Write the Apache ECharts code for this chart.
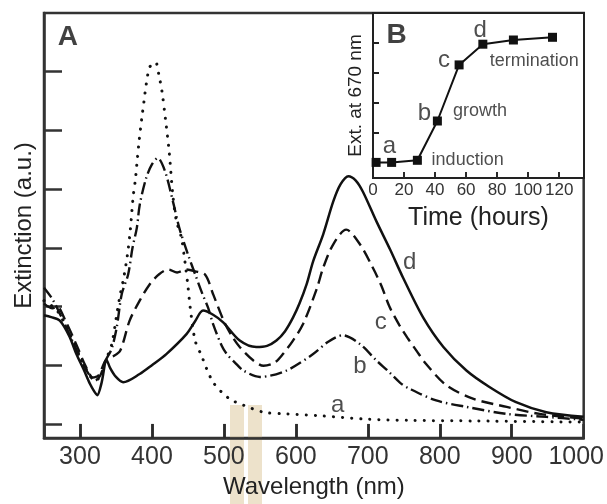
<!DOCTYPE html>
<html>
<head>
<meta charset="utf-8">
<script src="https://cdn.jsdelivr.net/npm/echarts/dist/echarts.min.js"></script>
<style>
html,body{margin:0;padding:0;background:#fff;}
#main{width:607px;height:504px;}
</style>
</head>
<body>
<div id="main"></div>
<script>
// 曲线 a (点线)
var aWl  = [250,260,270,285,300,312,320,328,336,344,352,356,360,364,367,370,374,377,379,382,386,389,392,397,405,410,414,419,424,429,434,441,446,450,453,460,469,476,485,497,510,527,555,587,633,700,760,850,1000];
var aExt = [2.10,2.02,1.90,1.55,1.15,0.86,0.74,0.80,1.09,1.35,1.93,2.21,2.44,2.72,2.98,3.31,3.88,4.16,4.42,4.80,5.22,5.50,5.78,6.08,6.16,5.92,5.66,5.17,4.63,3.90,3.46,3.17,2.75,2.35,2.00,1.42,1.16,0.94,0.71,0.54,0.41,0.32,0.20,0.17,0.14,0.08,0.06,0.05,0.03];
// 曲线 b (点划线)
var bWl  = [250,262,275,290,305,315,321,328,336,344,351,358,367,373,379,383,392,400,408,418,429,438,450,460,470,478,485,497,504,515,527,550,587,624,645,665,689,712,730,745,758,795,837,893,948,1000];
var bExt = [2.32,2.12,1.80,1.40,1.00,0.80,0.74,0.82,1.09,1.28,1.64,2.21,2.55,3.00,3.34,3.73,4.19,4.42,4.53,4.31,3.80,3.34,2.89,2.55,2.22,1.98,1.70,1.33,1.19,1.05,0.91,0.80,0.91,1.19,1.40,1.51,1.36,1.08,0.88,0.70,0.60,0.40,0.29,0.17,0.12,0.07];
// 曲线 c (虚线)
var cWl  = [250,262,268,280,295,308,318,326,336,346,356,369,383,397,410,423,435,448,460,474,485,500,511,522,541,555,570,582,596,610,629,638,652,670,689,707,719,730,744,756,768,781,809,846,893,939,1000];
var cExt = [2.05,1.97,2.00,1.75,1.35,0.98,0.79,0.83,1.09,1.15,1.25,1.76,2.10,2.38,2.55,2.63,2.58,2.63,2.60,2.54,2.21,1.75,1.50,1.31,1.08,0.99,1.04,1.19,1.42,1.70,2.30,2.66,3.06,3.31,3.06,2.66,2.35,2.00,1.68,1.45,1.24,1.02,0.66,0.43,0.29,0.17,0.09];
// 曲线 d (实线)
var dWl  = [250,260,272,285,295,305,314,320,324,330,337,342,350,360,383,400,420,448,460,471,485,499,522,545,560,573,585,596,605,615,624,638,652,662,673,683,693,712,731,749,777,805,837,869,906,948,1000];
var dExt = [1.85,1.82,1.76,1.50,1.19,0.93,0.68,0.55,0.49,0.70,1.09,0.95,0.80,0.71,0.85,1.00,1.19,1.53,1.75,1.93,1.86,1.73,1.42,1.31,1.33,1.42,1.58,1.81,2.05,2.38,2.77,3.23,3.79,4.08,4.22,4.15,3.96,3.45,2.97,2.49,1.81,1.31,0.91,0.63,0.37,0.20,0.12];

// 主图刻度
var wlTicks = [300,400,500,600,700,800,900];
var extTicks = [0,1,2,3,4,5,6];

// 曲线标注
var mainTagText = ['A','a','b','c','d'];
var mainTagX = [283,658,689,718,758];
var mainTagY = [6.59,0.31,0.98,1.73,2.75];

// 插图 B: 670 nm 处消光随时间
var hours = [2,12,28.6,41.5,55.5,70.8,90.5,115.7];
var ext670 = [1.02,1.02,1.09,2.40,4.27,4.96,5.10,5.19];
var hourTicks = [20,40,60,80,100,120];
var ext670Ticks = [1,2,3,4,5];
var insetTagText = ['B','a','b','c','d','termination','growth','induction'];
var insetTagX = [15.2,10.6,33.2,45.8,69,103.9,69,61];
var insetTagY = [5.27,1.57,2.67,4.43,5.43,4.40,2.73,1.10];

var FONT = "'Liberation Sans', Arial, Helvetica, sans-serif";
var INK = '#111';

function zip(xs, ys){
	var out = [];
	for(var i=0;i<xs.length;i++){
		out.push([xs[i], ys[i]]);
	}
	return out;
}
function tags(text, xs, ys){
	var out = [];
	for(var i=0;i<text.length;i++){
		out.push({name:text[i], value:[xs[i], ys[i]]});
	}
	return out;
}
// x 轴短刻度, 用 markLine 从轴底画到 yTop
function tickMarks(xs, yBottom, yTop, width){
	var list = [];
	for(var i=0;i<xs.length;i++){
		list.push([{coord:[xs[i], yBottom]}, {coord:[xs[i], yTop]}]);
	}
	return {
		silent:true,
		symbol:['none','none'],
		label:{show:false},
		emphasis:{disabled:true},
		lineStyle:{color:'#2a2a2a', width:width, type:'solid', opacity:1},
		data:list
	};
}
function curve(name, xs, ys, dash, width, cap){
	return {
		name:name,
		type:'line',
		data:zip(xs, ys),
		showSymbol:false,
		smooth:0.3,
		silent:true,
		z:3,
		lineStyle:{color:INK, width:width, type:dash, cap:cap || 'butt'}
	};
}
function tagSeries(data, xi, yi, z){
	return {
		type:'scatter',
		xAxisIndex:xi,
		yAxisIndex:yi,
		data:data,
		symbolSize:1,
		itemStyle:{color:'rgba(0,0,0,0)'},
		silent:true,
		z:z,
		label:{
			show:true,
			position:'inside',
			formatter:function(p){ return p.name; },
			fontFamily:FONT,
			color:'#222',
			fontSize:24,
			rich:{
				big:{fontSize:28, fontWeight:'bold', color:'#111', fontFamily:FONT},
				small:{fontSize:18, color:'#222', fontFamily:FONT}
			}
		}
	};
}

var mainTags = tags(mainTagText, mainTagX, mainTagY);
var insetTags = tags(insetTagText, insetTagX, insetTagY);
// 大写字母加粗, 长文字用小号
function styleTags(list){
	for(var i=0;i<list.length;i++){
		var t = list[i].name;
		if(t === 'A' || t === 'B'){
			list[i].label = {formatter:'{big|' + t + '}'};
		}else if(t.length > 1){
			list[i].label = {formatter:'{small|' + t + '}'};
		}
	}
}
styleTags(mainTags);
styleTags(insetTags);

var solid = curve('d', dWl, dExt, 'solid', 2.5);
solid.markLine = tickMarks(wlTicks, -0.24, 0, 2.5);

var chart = echarts.init(document.getElementById('main'), null, {renderer:'canvas'});
var option = {
	backgroundColor:'#fff',
	animation:false,
	grid:[
		{left:44, top:13, right:23, bottom:63, show:true, borderColor:'#333', borderWidth:2.5, backgroundColor:'rgba(0,0,0,0)'},
		{left:373, top:13, right:23, bottom:326, show:true, borderColor:'#222', borderWidth:2, backgroundColor:'#fff'}
	],
	graphic:[
		{type:'rect', z:0, shape:{x:230, y:405, width:14, height:99}, style:{fill:'rgba(214,190,140,0.45)'}},
		{type:'rect', z:0, shape:{x:248, y:405, width:14, height:99}, style:{fill:'rgba(214,190,140,0.45)'}}
	],
	xAxis:[
		{
			type:'value', gridIndex:0, min:250, max:1000, splitNumber:8,
			name:'Wavelength (nm)', nameLocation:'middle', nameGap:37,
			nameTextStyle:{fontSize:24, color:'#222', fontFamily:FONT},
			axisLine:{show:true, onZero:false, lineStyle:{color:'#333', width:2.5}},
			axisTick:{show:true, inside:true, length:14, lineStyle:{color:'#333', width:2.5}},
			axisLabel:{
				show:true, margin:7, fontSize:25, color:'#333', fontFamily:FONT,
				formatter:function(v){
					if(v % 100 !== 0) return '';
					return v === 1000 ? '{e|1000}' : String(v);
				},
				rich:{e:{fontSize:25, color:'#333', fontFamily:FONT, padding:[0,15,0,0]}}
			},
			splitLine:{show:false}
		},
		{
			type:'value', gridIndex:1, min:0, max:136, interval:20,
			name:'Time (hours)', nameLocation:'middle', nameGap:28,
			nameTextStyle:{fontSize:25, color:'#222', fontFamily:FONT},
			axisLine:{show:true, onZero:false, lineStyle:{color:'#222', width:2}},
			axisTick:{show:true, inside:true, length:6, lineStyle:{color:'#222', width:2}},
			axisLabel:{show:true, margin:4, fontSize:17, color:'#333', fontFamily:FONT, showMaxLabel:false},
			splitLine:{show:false}
		}
	],
	yAxis:[
		{
			type:'value', gridIndex:0, min:-0.24, max:7,
			name:'Extinction (a.u.)', nameLocation:'middle', nameGap:8,
			nameTextStyle:{fontSize:24, color:'#222', fontFamily:FONT},
			axisLine:{show:true, onZero:false, lineStyle:{color:'#333', width:2.5}},
			axisTick:{show:true, inside:true, length:18, customValues:extTicks, lineStyle:{color:'#333', width:2.5}},
			axisLabel:{show:false},
			splitLine:{show:false}
		},
		{
			type:'value', gridIndex:1, min:0.5, max:6,
			name:'Ext. at 670 nm', nameLocation:'middle', nameGap:8,
			nameTextStyle:{fontSize:19, color:'#222', fontFamily:FONT},
			axisLine:{show:true, onZero:false, lineStyle:{color:'#222', width:2}},
			axisTick:{show:true, inside:true, length:6, customValues:ext670Ticks, lineStyle:{color:'#222', width:2}},
			axisLabel:{show:false},
			splitLine:{show:false}
		}
	],
	series:[
		curve('a', aWl, aExt, [0.1,9], 3, 'round'),
		curve('b', bWl, bExt, [12,4,1.5,4], 2.4),
		curve('c', cWl, cExt, [12,6], 2.4),
		solid,
		tagSeries(mainTags, 0, 0, 5),
		{
			name:'B',
			type:'line',
			xAxisIndex:1,
			yAxisIndex:1,
			data:zip(hours, ext670),
			symbol:'rect',
			symbolSize:9,
			showSymbol:true,
			silent:true,
			z:6,
			itemStyle:{color:INK},
			lineStyle:{color:INK, width:2},
			markLine:tickMarks(hourTicks, 0.5, 0.7, 2)
		},
		tagSeries(insetTags, 1, 1, 7)
	]
};
chart.setOption(option);
</script>
</body>
</html>
